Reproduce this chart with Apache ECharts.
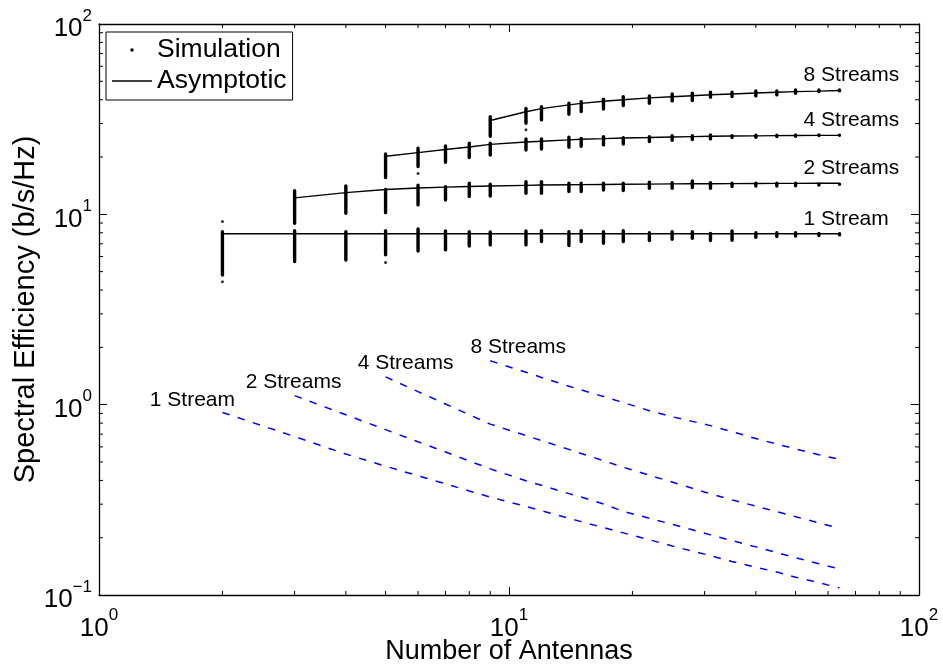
<!DOCTYPE html>
<html>
<head>
<meta charset="utf-8">
<title>Spectral Efficiency vs Number of Antennas</title>
<script src="https://cdn.jsdelivr.net/npm/echarts@6/dist/echarts.min.js"></script>
<style>
  html, body { margin: 0; padding: 0; background: #ffffff; }
  #chart { width: 943px; height: 667px; }
</style>
</head>
<body>
<div id="chart"></div>
<script>
// Antenna counts on the x axis
const antennas = [2, 3, 4, 5, 6, 7, 8, 9, 11, 12, 14, 15, 17, 19, 22, 25, 28, 31, 35, 40, 45, 50, 57, 64];
// Number of spatial streams per curve family
const streamCounts = [1, 2, 4, 8];
const streamNames = ['1 Stream', '2 Streams', '4 Streams', '8 Streams'];

// Asymptotic spectral efficiency (b/s/Hz), starting at the first antenna count above the stream count
const asym1 = [7.9, 7.9, 7.9, 7.9, 7.9, 7.9, 7.9, 7.9, 7.9, 7.9, 7.9, 7.9, 7.9, 7.9, 7.9, 7.9, 7.9, 7.9, 7.9, 7.9, 7.9, 7.9, 7.9, 7.9];
const asym2 = [12.2, 13.0, 13.5, 13.75, 13.9, 14.0, 14.1, 14.2, 14.25, 14.3, 14.32, 14.35, 14.38, 14.42, 14.45, 14.47, 14.49, 14.5, 14.52, 14.54, 14.55, 14.56, 14.57];
const asym4 = [20.2, 21.1, 21.9, 22.6, 23.3, 24.0, 24.2, 24.6, 24.8, 25.0, 25.2, 25.35, 25.5, 25.6, 25.7, 25.8, 25.85, 25.9, 25.95, 26.0, 26.0];
const asym8 = [31.1, 34.6, 35.9, 37.6, 38.3, 39.3, 40.0, 40.9, 41.5, 42.0, 42.5, 42.9, 43.4, 43.8, 44.1, 44.4, 44.7];

// Spread of the simulated realisations at each antenna count (lowest / highest)
const simLo1 = [4.7, 5.53, 5.64, 6.0, 6.29, 6.37, 6.68, 6.77, 6.77, 7.05, 6.72, 7.05, 6.91, 7.05, 7.14, 7.25, 7.34, 7.14, 7.16, 7.43, 7.49, 7.54, 7.58, 7.64];
const simHi1 = [8.28, 8.38, 8.28, 8.38, 8.55, 8.35, 8.28, 8.25, 8.35, 8.38, 8.28, 8.38, 8.28, 8.38, 8.18, 8.28, 8.28, 8.11, 8.35, 8.18, 8.18, 8.18, 8.11, 8.08];
const simLo2 = [8.8, 9.93, 10.0, 10.98, 11.66, 12.15, 12.24, 12.65, 12.65, 12.91, 12.91, 13.16, 13.07, 13.44, 13.44, 13.55, 13.44, 13.71, 13.81, 13.81, 13.85, 13.98, 14.10];
const simHi2 = [13.6, 14.39, 13.81, 14.5, 14.27, 14.86, 14.68, 15.17, 15.17, 14.86, 14.86, 14.86, 14.86, 15.04, 14.98, 15.29, 14.98, 14.86, 14.86, 14.86, 14.86, 14.75, 14.68];
const simLo4 = [15.29, 17.47, 18.4, 19.48, 20.1, 21.35, 21.61, 22.06, 22.33, 22.69, 22.96, 23.64, 24.02, 24.22, 24.4, 24.81, 24.9, 25.11, 25.2, 25.42, 25.5];
const simHi4 = [21.2, 22.69, 23.35, 24.1, 24.1, 25.42, 25.42, 25.92, 25.6, 26.14, 25.82, 26.14, 26.45, 26.45, 26.68, 26.45, 26.55, 26.55, 26.68, 26.68, 26.55];
const simLo8 = [25.2, 29.5, 30.7, 32.89, 33.98, 35.06, 36.54, 37.57, 38.63, 38.82, 40.4, 40.74, 41.04, 41.54, 42.4, 43.29, 43.6];
const simHi8 = [33.3, 36.8, 37.57, 39.1, 39.92, 41.04, 42.4, 42.77, 43.81, 44.14, 44.67, 44.67, 45.43, 45.43, 45.98, 45.98, 45.98];

// Isolated simulated realisations outside the dense spreads
const outlierX = [2, 2, 5, 6, 11];
const outlierY = [9.16, 4.43, 5.58, 16.4, 27.8];

// Lower (dashed) curves, same antenna ranges as above
const lower1 = [0.91, 0.68, 0.55, 0.475, 0.423, 0.384, 0.352, 0.327, 0.292, 0.277, 0.253, 0.243, 0.226, 0.212, 0.195, 0.181, 0.170, 0.161, 0.150, 0.140, 0.132, 0.124, 0.116, 0.109];
const lower2 = [1.115, 0.885, 0.739, 0.638, 0.564, 0.506, 0.460, 0.3985, 0.377, 0.341, 0.327, 0.301, 0.275, 0.253, 0.235, 0.220, 0.207, 0.193, 0.179, 0.167, 0.157, 0.146, 0.137];
const lower4 = [1.40, 1.171, 1.0085, 0.886, 0.790, 0.688, 0.648, 0.582, 0.554, 0.508, 0.469, 0.426, 0.392, 0.364, 0.340, 0.316, 0.293, 0.274, 0.258, 0.239, 0.224];
const lower8 = [1.70, 1.48, 1.39, 1.25, 1.195, 1.103, 1.026, 0.930, 0.864, 0.817, 0.776, 0.721, 0.664, 0.621, 0.585, 0.546, 0.516];

// Minor tick values between the decades
const xMinorTicks = [2, 3, 4, 5, 6, 7, 8, 9, 20, 30, 40, 50, 60, 70, 80, 90];
const yMinorTicks = [0.2, 0.3, 0.4, 0.5, 0.6, 0.7, 0.8, 0.9, 2, 3, 4, 5, 6, 7, 8, 9, 20, 30, 40, 50, 60, 70, 80, 90];

// ---- layout / style ----
const FONT = "'Liberation Sans', Arial, Helvetica, sans-serif";
const MINOR_LEN = 4;
const upperLabelOffset = [-36, -15];            // label left edge / centre relative to last point
const lowerLabelOffsets = [[-30, -12], [-1, -13], [20, -14], [28, -14]]; // label centre relative to first point

const asymSets = [asym1, asym2, asym4, asym8];
const loSets = [simLo1, simLo2, simLo4, simLo8];
const hiSets = [simHi1, simHi2, simHi4, simHi8];
const lowerSets = [lower1, lower2, lower4, lower8];

function startIndex(k) { return antennas.findIndex(n => n > k); }
function pairs(k, vals) {
  const s = startIndex(k);
  return antennas.slice(s).map((x, i) => [x, vals[i]]);
}

function expLabel(v) {
  const e = Math.round(Math.log10(v));
  const t = e < 0 ? '\u2212' + (-e) : String(e);
  return '{b|10}{e|' + t + '}';
}
const labelRich = {
  b: { fontSize: 26, fontFamily: FONT, color: '#000', lineHeight: 27 },
  e: { fontSize: 17, fontFamily: FONT, color: '#000', lineHeight: 17, padding: [0, 0, 26, 0] }
};

const frameLine = { show: true, onZero: false, lineStyle: { color: '#000', width: 1.3 } };
const majorTick = { show: true, inside: true, length: 8, lineStyle: { color: '#000', width: 1 } };

// Log axes carry the data, the frame and the decade ticks
function logAxis(dim, position, withLabels, extra) {
  const isX = dim === 'x';
  return Object.assign({
    type: 'log', logBase: 10,
    min: isX ? 1 : 0.1, max: 100, splitNumber: isX ? 2 : 3,
    position: position,
    axisLine: frameLine,
    axisTick: majorTick,
    axisLabel: withLabels
      ? (isX
        ? { margin: 20, formatter: expLabel, rich: labelRich, color: '#000' }
        : { margin: 7, padding: [10, 0, 0, 0], formatter: expLabel, rich: labelRich, color: '#000' })
      : { show: false },
    splitLine: { show: false }
  }, extra || {});
}

const series = [];

streamCounts.forEach((k, i) => {
  // simulated spreads drawn as vertical dot columns
  const s = startIndex(k);
  const spread = antennas.slice(s).map((x, j) => [x, loSets[i][j], hiSets[i][j]]);
  series.push({
    name: 'Simulation',
    type: 'custom',
    itemStyle: { color: '#000' },
    encode: { x: 0, y: [1, 2] },
    data: spread,
    z: 3,
    renderItem: function (params, api) {
      const x = api.value(0);
      const top = api.coord([x, api.value(2)]);
      const bot = api.coord([x, api.value(1)]);
      const w = 3.4;
      return {
        type: 'rect',
        shape: { x: top[0] - w / 2, y: top[1], width: w, height: Math.max(bot[1] - top[1], w), r: w / 2 },
        style: { fill: '#000' }
      };
    }
  });

  // asymptotic curve
  const asymData = pairs(k, asymSets[i]);
  const last = asymData[asymData.length - 1];
  series.push({
    name: 'Asymptotic',
    type: 'line',
    data: asymData,
    symbol: 'none',
    showSymbol: false,
    lineStyle: { color: '#000', width: 1.4 },
    itemStyle: { color: '#000' },
    z: 4,
    markPoint: {
      silent: true,
      symbol: 'circle',
      symbolSize: 0,
      data: [{
        coord: last,
        label: {
          show: true, formatter: streamNames[i], position: 'inside', align: 'left',
          offset: upperLabelOffset, color: '#000', fontSize: 21, fontFamily: FONT
        }
      }]
    }
  });

  // lower dashed curve
  const lowData = pairs(k, lowerSets[i]);
  series.push({
    name: 'Lower ' + streamNames[i],
    type: 'line',
    data: lowData,
    symbol: 'none',
    showSymbol: false,
    lineStyle: { color: '#0000ff', width: 1.5, type: [7.5, 8.5] },
    itemStyle: { color: '#0000ff' },
    z: 2,
    markPoint: {
      silent: true,
      symbol: 'circle',
      symbolSize: 0,
      data: [{
        coord: lowData[0],
        label: {
          show: true, formatter: streamNames[i], position: 'inside', align: 'center',
          offset: lowerLabelOffsets[i], color: '#000', fontSize: 21, fontFamily: FONT
        }
      }]
    }
  });
});

series.push({
  name: 'Simulation',
  type: 'scatter',
  data: outlierX.map((x, i) => [x, outlierY[i]]),
  symbol: 'circle',
  symbolSize: 3,
  itemStyle: { color: '#000' },
  z: 3
});

// Minor ticks on the frame (bottom/top for x, left/right for y), placed through the axes' log scales
series.push({
  name: 'x minor ticks',
  type: 'custom',
  silent: true,
  z: 5,
  data: xMinorTicks.map(v => [v, 1]),
  encode: { x: 0, y: 1 },
  renderItem: function (params, api) {
    const cs = params.coordSys;
    const px = api.coord([api.value(0), 1])[0];
    const yb = cs.y + cs.height, yt = cs.y;
    const st = { stroke: '#000', lineWidth: 1 };
    return {
      type: 'group',
      children: [
        { type: 'line', shape: { x1: px, y1: yb, x2: px, y2: yb - MINOR_LEN }, style: st },
        { type: 'line', shape: { x1: px, y1: yt, x2: px, y2: yt + MINOR_LEN }, style: st }
      ]
    };
  }
});
series.push({
  name: 'y minor ticks',
  type: 'custom',
  silent: true,
  z: 5,
  data: yMinorTicks.map(v => [1, v]),
  encode: { x: 0, y: 1 },
  renderItem: function (params, api) {
    const cs = params.coordSys;
    const py = api.coord([1, api.value(1)])[1];
    const xl = cs.x, xr = cs.x + cs.width;
    const st = { stroke: '#000', lineWidth: 1 };
    return {
      type: 'group',
      children: [
        { type: 'line', shape: { x1: xl, y1: py, x2: xl + MINOR_LEN, y2: py }, style: st },
        { type: 'line', shape: { x1: xr, y1: py, x2: xr - MINOR_LEN, y2: py }, style: st }
      ]
    };
  }
});

const chart = echarts.init(document.getElementById('chart'), null, { renderer: 'canvas' });
chart.setOption({
  animation: false,
  backgroundColor: '#ffffff',
  textStyle: { fontFamily: FONT },
  grid: { left: 99, right: 24, top: 24, bottom: 72, containLabel: false, outerBoundsMode: 'none' },
  legend: {
    data: [
      { name: 'Simulation', icon: 'path://M0,0L0.01,0L0,0.01Z M40,14L40.01,14L40,14.01Z M18.5,5.5L21.5,5.5L21.5,8.5L18.5,8.5Z' },
      { name: 'Asymptotic', icon: 'path://M0,0L0.01,0L0,0.01Z M40,14L40.01,14L40,14.01Z M0,6.3L40,6.3L40,7.7L0,7.7Z' }
    ],
    orient: 'vertical',
    left: 106,
    top: 32,
    itemWidth: 40,
    itemHeight: 14,
    itemGap: 3,
    padding: [4, 6, 5, 6],
    borderColor: '#000',
    borderWidth: 1,
    backgroundColor: '#fff',
    selectedMode: false,
    textStyle: { fontSize: 26.5, lineHeight: 28, color: '#000', fontFamily: FONT }
  },
  xAxis: [
    logAxis('x', 'bottom', true, {
      name: 'Number of Antennas', nameLocation: 'middle', nameGap: 43, nameMoveOverlap: false,
      nameTextStyle: { fontSize: 27, color: '#000', fontFamily: FONT }
    }),
    logAxis('x', 'top', false)
  ],
  yAxis: [
    logAxis('y', 'left', true, {
      name: 'Spectral Efficiency (b/s/Hz)', nameLocation: 'middle', nameGap: 59, nameMoveOverlap: false,
      nameTextStyle: { fontSize: 29, color: '#000', fontFamily: FONT }
    }),
    logAxis('y', 'right', false)
  ],
  series: series
});
</script>
</body>
</html>
